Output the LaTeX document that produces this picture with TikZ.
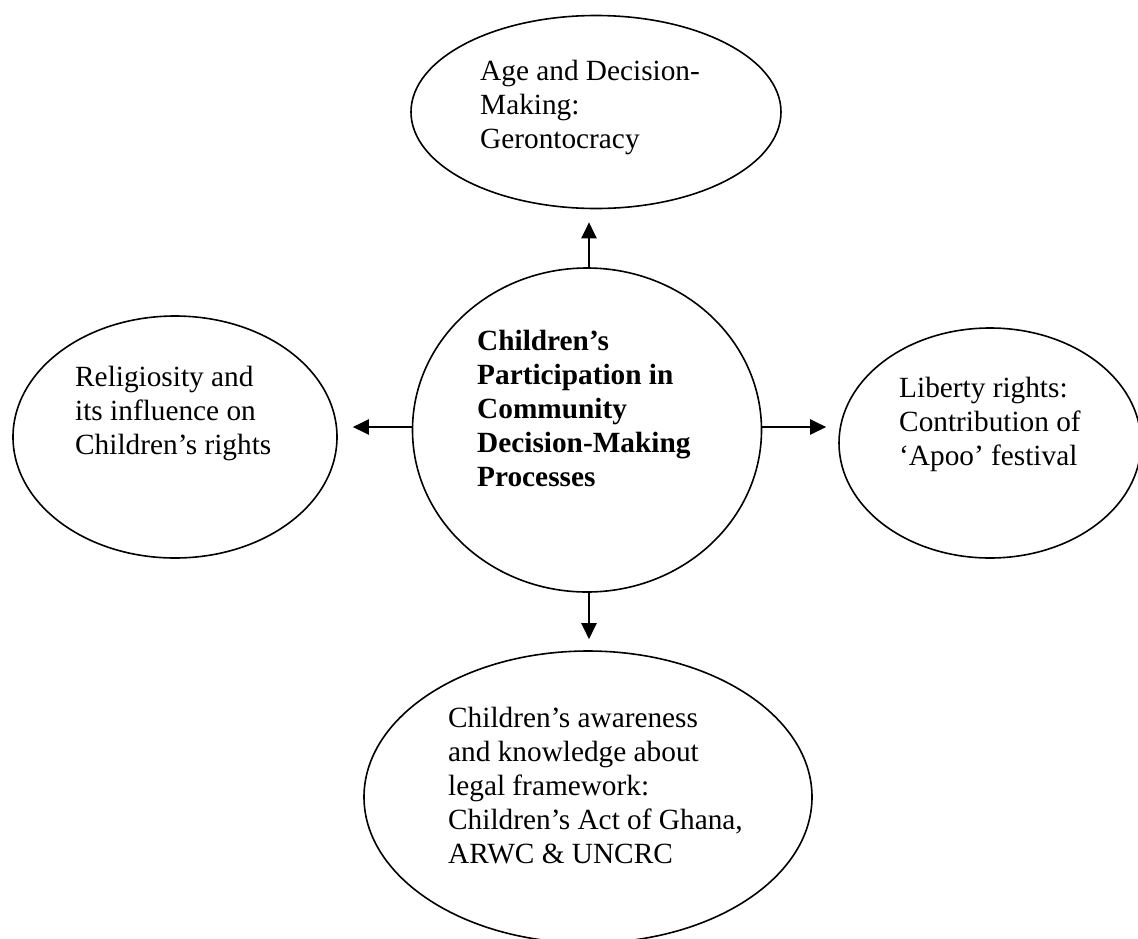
\documentclass[tikz,border=0pt]{standalone}
\usepackage{fontspec}
\setmainfont{Liberation Serif}
\usetikzlibrary{arrows.meta,shapes.geometric}
\tikzset{
  ell/.style={draw, ellipse, line width=1.6pt, inner sep=0pt},
  lbl/.style={anchor=north west, align=left, inner sep=0pt, font=\fontsize{29.3}{34}\selectfont},
  arr/.style={line width=2.2pt, -{Triangle[length=16pt,width=15pt]}}
}
\begin{document}
\begin{tikzpicture}[x=1pt,y=-1pt]
\useasboundingbox (0,0) rectangle (1138,938);
% shapes
\node[ell, minimum width=370pt, minimum height=193pt] (top) at (596,112) {};
\node[ell, minimum width=349pt, minimum height=324pt] (center) at (587,430) {};
\node[ell, minimum width=324pt, minimum height=242pt] (left) at (175,437) {};
\node[ell, minimum width=302pt, minimum height=230pt] (right) at (990,443) {};
\node[ell, minimum width=448pt, minimum height=292pt] (bottom) at (588,797) {};
% texts
\node[lbl] (toptext) at (480,60) {Age and Decision-\\Making:\\Gerontocracy};
\node[lbl, font=\fontsize{29.3}{34}\selectfont\bfseries] (centertext) at (477,330) {Children’s\\Participation in\\Community\\Decision-Making\\Processes};
\node[lbl] (lefttext) at (75,366) {Religiosity and\\its influence on\\Children’s rights};
\node[lbl] (righttext) at (899,377) {Liberty rights:\\Contribution of\\‘Apoo’ festival};
\node[lbl] (bottomtext) at (448,707) {Children’s awareness\\and knowledge about\\legal framework:\\Children’s Act of Ghana,\\ARWC \& UNCRC};
% connectors
\draw[arr, shorten >=13pt] ([xshift=2pt]center.north) -- ([xshift=2pt]center.north |- top.south);
\draw[arr, shorten >=15pt] ([yshift=3pt]center.west) -- ([yshift=3pt]center.west -| left.east);
\draw[arr, shorten >=12pt] ([yshift=3pt]center.east) -- ([yshift=3pt]center.east -| right.west);
\draw[arr, shorten >=11pt] ([xshift=2pt]center.south) -- ([xshift=2pt]center.south |- bottom.north);
\end{tikzpicture}
\end{document}
